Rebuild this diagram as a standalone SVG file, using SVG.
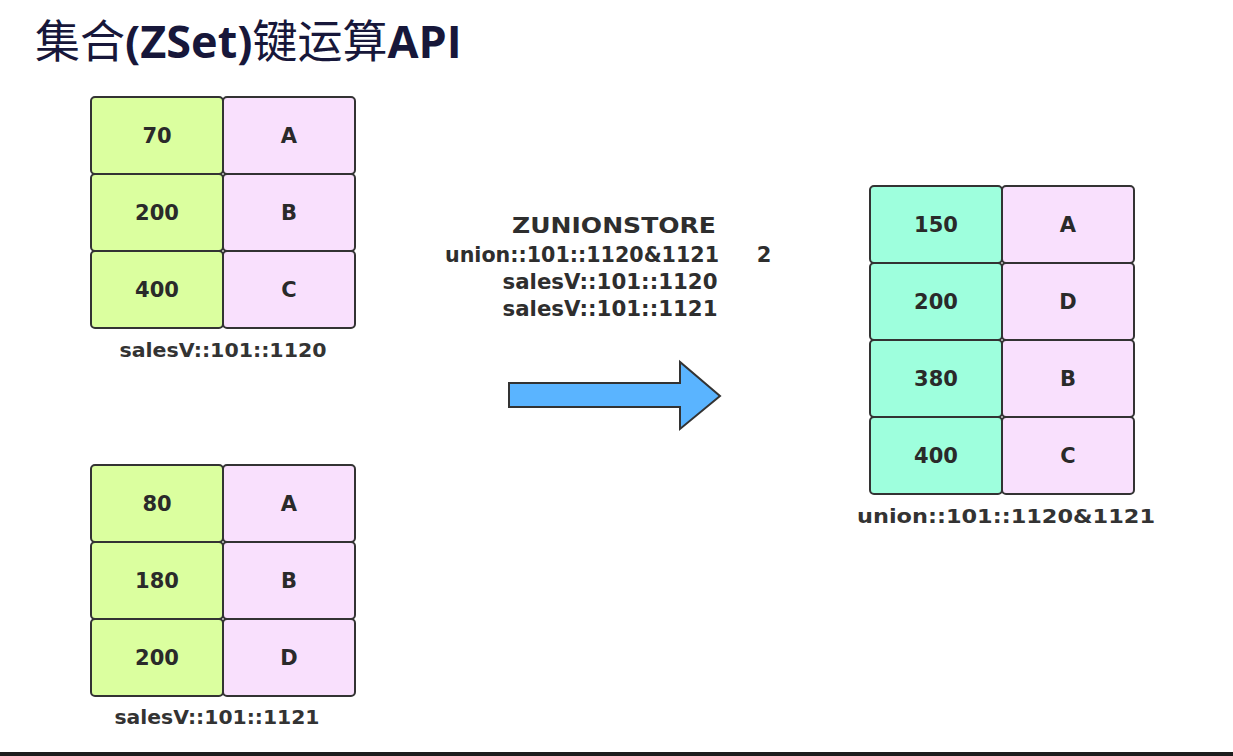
<svg xmlns="http://www.w3.org/2000/svg" width="1233" height="756" viewBox="0 0 1233 756">
<style>
.g{fill:#dbff9f;stroke:#333;stroke-width:2}
.t{fill:#9effdd;stroke:#333;stroke-width:2}
.p{fill:#f9e0fd;stroke:#333;stroke-width:2}
.c{font-family:"DejaVu Sans",Verdana,sans-serif;font-weight:bold;font-size:21px;fill:#2a2a2a;text-anchor:middle}
.l{font-family:"DejaVu Sans",Verdana,sans-serif;font-weight:bold;font-size:20px;fill:#333;text-anchor:middle}
.m{font-family:"DejaVu Sans",Verdana,sans-serif;font-weight:bold;font-size:21px;fill:#2e2e2e;text-anchor:middle}
</style>
<rect width="1233" height="756" fill="#fff"/>
<text x="35" y="58" font-size="45" fill="#17173a" font-family="'Noto Sans CJK SC',sans-serif">集合<tspan font-family="'Open Sans','Liberation Sans',sans-serif" font-weight="bold">(ZSet)</tspan>键运算<tspan font-family="'Open Sans','Liberation Sans',sans-serif" font-weight="bold">API</tspan></text>

<g id="set1120">
<rect class="g" x="91" y="97" width="132" height="77" rx="4"/>
<rect class="p" x="223" y="97" width="132" height="77" rx="4"/>
<rect class="g" x="91" y="174" width="132" height="77" rx="4"/>
<rect class="p" x="223" y="174" width="132" height="77" rx="4"/>
<rect class="g" x="91" y="251" width="132" height="77" rx="4"/>
<rect class="p" x="223" y="251" width="132" height="77" rx="4"/>
<text class="c" x="157" y="143">70</text>
<text class="c" x="289" y="143">A</text>
<text class="c" x="157" y="220">200</text>
<text class="c" x="289" y="220">B</text>
<text class="c" x="157" y="297">400</text>
<text class="c" x="289" y="297">C</text>
<text class="l" x="223" y="357" textLength="207" lengthAdjust="spacingAndGlyphs">salesV::101::1120</text>
</g>

<g id="set1121">
<rect class="g" x="91" y="465" width="132" height="77" rx="4"/>
<rect class="p" x="223" y="465" width="132" height="77" rx="4"/>
<rect class="g" x="91" y="542" width="132" height="77" rx="4"/>
<rect class="p" x="223" y="542" width="132" height="77" rx="4"/>
<rect class="g" x="91" y="619" width="132" height="77" rx="4"/>
<rect class="p" x="223" y="619" width="132" height="77" rx="4"/>
<text class="c" x="157" y="511">80</text>
<text class="c" x="289" y="511">A</text>
<text class="c" x="157" y="588">180</text>
<text class="c" x="289" y="588">B</text>
<text class="c" x="157" y="665">200</text>
<text class="c" x="289" y="665">D</text>
<text class="l" x="217" y="724" textLength="205" lengthAdjust="spacingAndGlyphs">salesV::101::1121</text>
</g>

<g id="union">
<rect class="t" x="870" y="186" width="132" height="77" rx="4"/>
<rect class="p" x="1002" y="186" width="132" height="77" rx="4"/>
<rect class="t" x="870" y="263" width="132" height="77" rx="4"/>
<rect class="p" x="1002" y="263" width="132" height="77" rx="4"/>
<rect class="t" x="870" y="340" width="132" height="77" rx="4"/>
<rect class="p" x="1002" y="340" width="132" height="77" rx="4"/>
<rect class="t" x="870" y="417" width="132" height="77" rx="4"/>
<rect class="p" x="1002" y="417" width="132" height="77" rx="4"/>
<text class="c" x="936" y="232">150</text>
<text class="c" x="1068" y="232">A</text>
<text class="c" x="936" y="309">200</text>
<text class="c" x="1068" y="309">D</text>
<text class="c" x="936" y="386">380</text>
<text class="c" x="1068" y="386">B</text>
<text class="c" x="936" y="463">400</text>
<text class="c" x="1068" y="463">C</text>
<text class="l" x="1006" y="523" font-size="22" textLength="298" lengthAdjust="spacingAndGlyphs">union::101::1120&amp;1121</text>
</g>

<g id="command">
<text class="m" x="614" y="233" textLength="204" lengthAdjust="spacingAndGlyphs">ZUNIONSTORE</text>
<text class="m" x="582" y="262" textLength="274" lengthAdjust="spacingAndGlyphs">union::101::1120&amp;1121</text>
<text class="m" x="764" y="262">2</text>
<text class="m" x="610" y="289" textLength="215" lengthAdjust="spacingAndGlyphs">salesV::101::1120</text>
<text class="m" x="610" y="316" textLength="215" lengthAdjust="spacingAndGlyphs">salesV::101::1121</text>
</g>

<g id="connectors">
<path d="M509 383 H680 V362 L720 396 L680 429 V407 H509 Z" fill="#5ab4ff" stroke="#333" stroke-width="2" stroke-linejoin="miter"/>
</g>

<rect x="0" y="752" width="1233" height="4" fill="#1c1c1c"/>
</svg>
